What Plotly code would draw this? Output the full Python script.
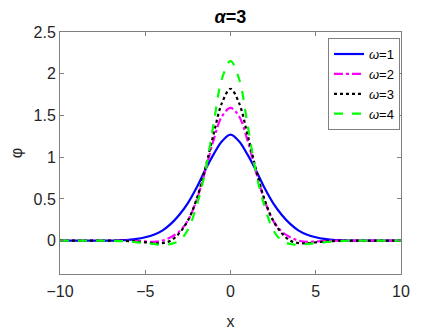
import plotly.graph_objects as go

x = [-10, -9.5, -9, -8.5, -8, -7.5, -7, -6.5, -6, -5.5, -5, -4.5, -4, -3.5, -3, -2.5, -2, -1.5, -1, -0.5,
     0, 0.5, 1, 1.5, 2, 2.5, 3, 3.5, 4, 4.5, 5, 5.5, 6, 6.5, 7, 7.5, 8, 8.5, 9, 9.5, 10]

phi_w1 = [0, 0, 0, 0, 0, 0, 0, 0.005, 0.01, 0.02, 0.04, 0.07, 0.12, 0.20, 0.31, 0.45, 0.63, 0.84, 1.03, 1.19,
          1.27, 1.19, 1.03, 0.84, 0.63, 0.45, 0.31, 0.20, 0.12, 0.07, 0.04, 0.02, 0.01, 0.005, 0, 0, 0, 0, 0, 0, 0]
phi_w2 = [0, 0, 0, 0, 0, 0, 0, 0, 0, -0.005, -0.01, -0.015, 0.0, 0.04, 0.11, 0.24, 0.48, 0.82, 1.20, 1.49,
          1.59, 1.49, 1.20, 0.82, 0.48, 0.24, 0.11, 0.04, 0.0, -0.015, -0.01, -0.005, 0, 0, 0, 0, 0, 0, 0, 0, 0]
phi_w3 = [0, 0, 0, 0, 0, 0, 0, 0, -0.005, -0.01, -0.02, -0.03, -0.03, 0.0, 0.09, 0.24, 0.49, 0.85, 1.27, 1.65,
          1.82, 1.65, 1.27, 0.85, 0.49, 0.24, 0.09, 0.0, -0.03, -0.03, -0.02, -0.01, -0.005, 0, 0, 0, 0, 0, 0, 0, 0]
phi_w4 = [0, 0, 0, 0, 0, 0, 0, -0.005, -0.01, -0.02, -0.03, -0.04, -0.05, -0.04, 0.0, 0.13, 0.41, 0.81, 1.39, 1.94,
          2.15, 1.94, 1.39, 0.81, 0.41, 0.13, 0.0, -0.04, -0.05, -0.04, -0.03, -0.02, -0.01, -0.005, 0, 0, 0, 0, 0, 0, 0]

names = ["<i>ω</i>=1", "<i>ω</i>=2", "<i>ω</i>=3", "<i>ω</i>=4"]
colors = ["#0000ff", "#ff00ff", "#000000", "#00ff00"]
dashes = ["solid", "dashdot", "dot", "dash"]

fig = go.Figure()
for ys, name, c, d in zip([phi_w1, phi_w2, phi_w3, phi_w4], names, colors, dashes):
    fig.add_trace(go.Scatter(x=x, y=ys, name=name, mode="lines",
                             line=dict(color=c, dash=d, width=2.2, shape="spline")))

axis_style = dict(showline=True, linecolor="#808080", linewidth=1, mirror="ticks",
                  ticks="inside", ticklen=4, tickcolor="#808080", showgrid=False,
                  zeroline=False, automargin=False, tickfont=dict(size=16, color="#262626"))

# page has an 8px body margin, so margins are offset accordingly
fig.update_layout(
    width=443, height=332,
    margin=dict(l=52, r=50, t=24, b=66),
    paper_bgcolor="white", plot_bgcolor="white",
    font=dict(family="Liberation Sans, Arial, sans-serif", color="#262626"),
    title=dict(text="<b><i>α</i>=3</b>", x=0.502, xanchor="center", y=0.992, yanchor="top",
               font=dict(size=18, color="black")),
    xaxis=dict(range=[-10, 10], tickvals=[-10, -5, 0, 5, 10], ticklabelstandoff=3,
               title=dict(text="x", font=dict(size=16), standoff=16), **axis_style),
    yaxis=dict(range=[-0.4, 2.5], tickvals=[0, 0.5, 1, 1.5, 2, 2.5],
               title=dict(text="φ", font=dict(size=16), standoff=14), **axis_style),
    legend=dict(x=0.997, xanchor="right", y=0.975, yanchor="top",
                bgcolor="white", bordercolor="#808080", borderwidth=1,
                font=dict(size=13, color="black"), tracegroupgap=0,
                itemwidth=30),
    showlegend=True,
)

fig.write_html("out.html")
